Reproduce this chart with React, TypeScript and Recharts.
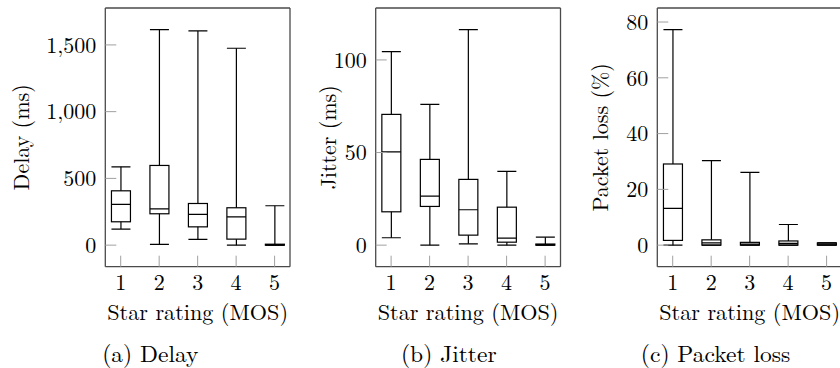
import React from 'react';
import { ComposedChart, Bar, XAxis, YAxis, Label } from 'recharts';

const ratings = [1, 2, 3, 4, 5];
const ratingTicks = [1, 2, 3, 4, 5];

const delayMin = [120, 5, 43, 0, 0];
const delayQ1 = [175, 235, 137, 45, 0];
const delayMedian = [305, 272, 230, 212, 2];
const delayQ3 = [407, 597, 312, 280, 7];
const delayMax = [587, 1615, 1605, 1475, 295];
const delayTicks = [0, 500, 1000, 1500];

const jitterMin = [4, 0, 0.7, 0, 0];
const jitterQ1 = [18, 20.9, 5.4, 1.6, 0];
const jitterMedian = [50.4, 26.5, 19.1, 3.8, 0.2];
const jitterQ3 = [70.6, 46.3, 35.5, 20.5, 0.6];
const jitterMax = [104.5, 76, 116.4, 39.8, 4.3];
const jitterTicks = [0, 50, 100];

const lossMin = [0, 0, 0, 0, 0];
const lossQ1 = [1.7, 0, 0, 0, 0];
const lossMedian = [13.2, 0.8, 0.4, 0.6, 0.35];
const lossQ3 = [29.1, 1.9, 1.0, 1.5, 0.8];
const lossMax = [77.3, 30.3, 26.1, 7.4, 0.8];
const lossTicks = [0, 20, 40, 60, 80];

const FONT = 'Latin Modern Roman';
const FRAME = '#4a4a4a';
const TICK = '#a0a0a0';

type Row = { rating: number; min: number; q1: number; median: number; q3: number; max: number };

function buildRows(min: number[], q1: number[], med: number[], q3: number[], max: number[]): Row[] {
  return ratings.map((r, i) => ({ rating: r, min: min[i], q1: q1[i], median: med[i], q3: q3[i], max: max[i] }));
}

function enlarged(rows: Row[]): [number, number] {
  const lo = Math.min(...rows.map((r) => r.min));
  const hi = Math.max(...rows.map((r) => r.max));
  const pad = (hi - lo) * 0.1;
  return [lo - pad, hi + pad];
}

const BoxShape = (props: any) => {
  const { x, y, width, height, payload } = props;
  if (!payload) return null;
  const { min, q1, median, q3, max } = payload as Row;
  const top = Math.min(y, y + height);
  const h = Math.abs(height);
  const py = (v: number) => top + (h * (max - v)) / (max - min);
  const cx = x + width / 2;
  const st = { stroke: '#000', strokeWidth: 1.2, fill: 'none' };
  return (
    <g>
      <line x1={cx} x2={cx} y1={py(max)} y2={py(q3)} {...st} />
      <line x1={cx} x2={cx} y1={py(q1)} y2={py(min)} {...st} />
      <line x1={x} x2={x + width} y1={py(max)} y2={py(max)} {...st} />
      <line x1={x} x2={x + width} y1={py(min)} y2={py(min)} {...st} />
      <rect x={x} y={py(q3)} width={width} height={Math.max(py(q1) - py(q3), 0.01)} {...st} />
      <line x1={x} x2={x + width} y1={py(median)} y2={py(median)} {...st} />
    </g>
  );
};

type PanelProps = {
  left: number;
  width: number;
  plotLeft: number;
  plotRight: number;
  rows: Row[];
  yTicks: number[];
  yTitle: string;
  yTitleOffset: number;
  caption: string;
  captionX: number;
};

const fmt = (v: number) => v.toLocaleString('en-US');

function Panel(p: PanelProps) {
  const domain = enlarged(p.rows);
  const H = 368;
  const plotTop = 8;
  const plotBottom = 266.7;
  const yAxisW = p.plotLeft - p.left;
  const marginRight = p.left + p.width - p.plotRight - 1;
  const tickStyle = { fill: '#000', fontSize: 22, fontFamily: FONT };
  return (
    <div style={{ position: 'absolute', left: p.left, top: 0 }}>
      <ComposedChart
        width={p.width}
        height={H}
        data={p.rows}
        margin={{ top: plotTop - 1, right: marginRight, bottom: 0, left: 0 }}
      >
        <XAxis
          dataKey="rating"
          type="number"
          domain={[0.6, 5.4]}
          ticks={ratingTicks}
          allowDataOverflow
          height={H - plotBottom}
          tickSize={-11}
          tickMargin={18.7}
          axisLine={{ stroke: FRAME, strokeWidth: 1.3 }}
          tickLine={{ stroke: TICK, strokeWidth: 1 }}
          tick={tickStyle}
        >
          <Label
            content={(lp: any) => {
              const vb = lp.viewBox || {};
              const cx = vb.x + vb.width / 2;
              const ty = vb.y;
              return (
                <g>
                  <text x={cx} y={ty + 52.8} textAnchor="middle" fontFamily={FONT} fontSize={22.2} fill="#000">
                    Star rating (MOS)
                  </text>
                  <text x={p.captionX - p.left} y={ty + 95.5} textAnchor="middle" fontFamily={FONT} fontSize={23.5} fill="#000">
                    {p.caption}
                  </text>
                </g>
              );
            }}
          />
        </XAxis>
        <XAxis
          xAxisId="top"
          orientation="top"
          type="number"
          domain={[0.6, 5.4]}
          ticks={ratingTicks}
          allowDataOverflow
          height={1}
          tickSize={-11}
          tick={false}
          axisLine={{ stroke: FRAME, strokeWidth: 1.3 }}
          tickLine={{ stroke: TICK, strokeWidth: 1 }}
        />
        <YAxis
          type="number"
          domain={domain}
          ticks={p.yTicks}
          allowDataOverflow
          width={yAxisW}
          tickSize={-11}
          tickMargin={20}
          tickFormatter={fmt}
          axisLine={{ stroke: FRAME, strokeWidth: 1.3 }}
          tickLine={{ stroke: TICK, strokeWidth: 1 }}
          tick={tickStyle}
        >
          <Label
            content={(lp: any) => {
              const vb = lp.viewBox || {};
              const bx = vb.x + vb.width - p.yTitleOffset;
              const cy = vb.y + vb.height / 2;
              return (
                <text
                  x={bx}
                  y={cy}
                  transform={`rotate(-90 ${bx} ${cy})`}
                  textAnchor="middle"
                  fontFamily={FONT}
                  fontSize={22}
                  fill="#000"
                >
                  {p.yTitle}
                </text>
              );
            }}
          />
        </YAxis>
        <YAxis
          yAxisId="right"
          orientation="right"
          type="number"
          domain={domain}
          ticks={p.yTicks}
          allowDataOverflow
          width={1}
          tickSize={-11}
          tick={false}
          axisLine={{ stroke: FRAME, strokeWidth: 1.3 }}
          tickLine={{ stroke: TICK, strokeWidth: 1 }}
        />
        <Bar
          dataKey={(d: Row) => [d.min, d.max]}
          barSize={19}
          shape={<BoxShape />}
          isAnimationActive={false}
        />
      </ComposedChart>
    </div>
  );
}

const delayRows = buildRows(delayMin, delayQ1, delayMedian, delayQ3, delayMax);
const jitterRows = buildRows(jitterMin, jitterQ1, jitterMedian, jitterQ3, jitterMax);
const lossRows = buildRows(lossMin, lossQ1, lossMedian, lossQ3, lossMax);

export default function App() {
  return (
    <div style={{ position: 'absolute', left: 0, top: 0, width: 840, height: 368, overflow: 'hidden', background: '#fff' }}>
      <Panel left={0} width={300} plotLeft={105.3} plotRight={290} rows={delayRows} yTicks={delayTicks}
        yTitle="Delay (ms)" yTitleOffset={76.7} caption="(a) Delay" captionX={150.3} />
      <Panel left={300} width={270} plotLeft={375.7} plotRight={560.5} rows={jitterRows} yTicks={jitterTicks}
        yTitle="Jitter (ms)" yTitleOffset={39.2} caption="(b) Jitter" captionX={448.8} />
      <Panel left={570} width={280} plotLeft={657.3} plotRight={842} rows={lossRows} yTicks={lossTicks}
        yTitle="Packet loss (%)" yTitleOffset={49.1} caption="(c) Packet loss" captionX={715.5} />
    </div>
  );
}
